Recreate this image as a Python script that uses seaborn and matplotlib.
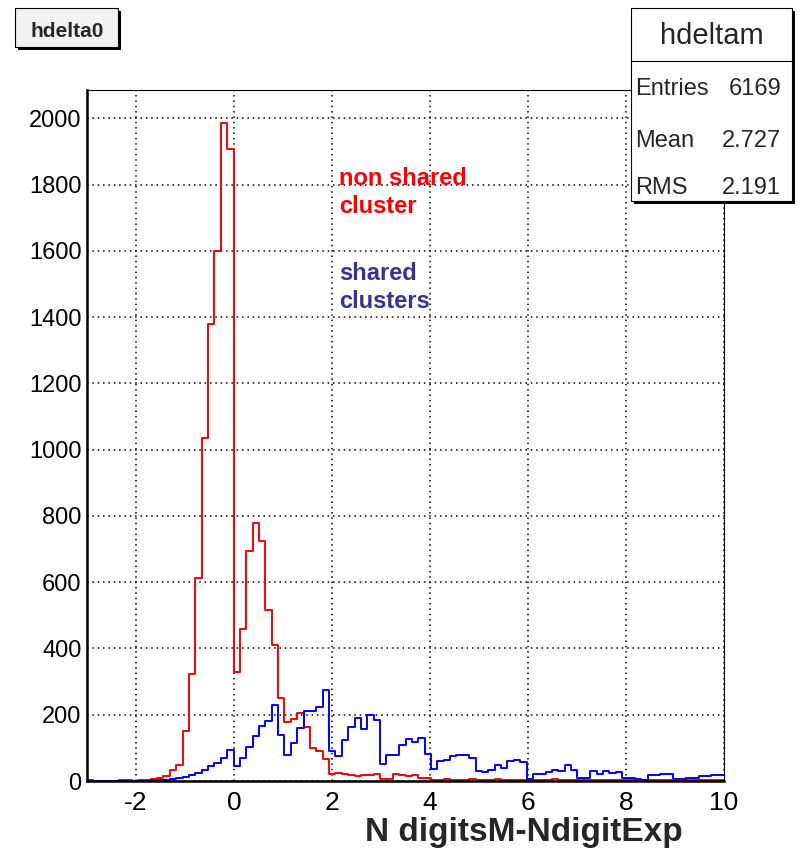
import numpy as np
import pandas as pd
import matplotlib
matplotlib.use("Agg")
import matplotlib.pyplot as plt
import seaborn as sns
from matplotlib.ticker import MultipleLocator
from matplotlib.patches import Rectangle
from matplotlib.lines import Line2D

# ---------------- data ----------------
bin_lo, bin_hi, n_bins = -3.0, 10.0, 100

red_counts = [4, 1, 1, 1, 1, 4, 4, 1, 2, 3,
              5, 8, 15, 32, 49, 150, 324, 614, 1035, 1379,
              1600, 1987, 1907, 329, 458, 693, 780, 724, 515, 412,
              252, 177, 186, 205, 163, 99, 91, 65, 21, 24,
              20, 17, 14, 17, 17, 21, 7, 7, 21, 19,
              15, 17, 10, 9, 4, 4, 5, 4, 4, 3,
              5, 4, 3, 4, 5, 3, 4, 4, 3, 2,
              3, 4, 3, 5, 4, 3, 2, 3, 4, 3,
              3, 4, 2, 3, 4, 3, 2, 3, 3, 4,
              2, 3, 2, 3, 2, 2, 3, 2, 3, 2]

blue_counts = [1, 1, 1, 1, 1, 1, 1, 1, 1, 1,
               2, 2, 3, 5, 8, 11, 17, 25, 34, 44,
               54, 68, 94, 44, 69, 102, 137, 165, 180, 228,
               140, 79, 114, 161, 211, 210, 223, 276, 91, 75,
               124, 163, 191, 156, 200, 183, 52, 77, 77, 110,
               127, 117, 131, 82, 37, 60, 63, 75, 79, 79,
               70, 30, 27, 34, 47, 39, 60, 64, 57, 7,
               20, 20, 27, 32, 30, 49, 32, 10, 10, 30,
               22, 29, 24, 28, 10, 8, 6, 4, 17, 19,
               20, 20, 7, 5, 10, 9, 14, 14, 18, 18]

x_ticks = [-2, 0, 2, 4, 6, 8, 10]
y_ticks = [0, 200, 400, 600, 800, 1000, 1200, 1400, 1600, 1800, 2000]

title_text = "hdelta0"
stats_name = "hdeltam"
stats_labels = ["Entries", "Mean", "RMS"]
stats_values = ["6169", "2.727", "2.191"]
xlabel_text = "N digitsM-NdigitExp"
red_label = "non shared\ncluster"
blue_label = "shared\nclusters"

# ---------------- style ----------------
sns.set_style("white")
plt.rcParams["font.family"] = ["Liberation Sans", "DejaVu Sans"]
REG = ["Liberation Sans", "DejaVu Sans"]

W, H = 800, 856
fig = plt.figure(figsize=(W / 100, H / 100), dpi=100)
fig.patch.set_facecolor("white")


def fx(x):
    return x / W


def fy(y):
    return 1 - y / H


ax = fig.add_axes([fx(87), fy(781), (724 - 87) / W, (781 - 90) / H])
ax.set_facecolor("white")

bin_w = (bin_hi - bin_lo) / n_bins
centers = bin_lo + bin_w * (np.arange(n_bins) + 0.5)
df = pd.DataFrame({"x": centers, "red": red_counts, "blue": blue_counts})

sns.histplot(data=df, x="x", weights="red", bins=n_bins, binrange=(bin_lo, bin_hi),
             element="step", fill=False, color="#ff0000", linewidth=1.4, ax=ax)
sns.histplot(data=df, x="x", weights="blue", bins=n_bins, binrange=(bin_lo, bin_hi),
             element="step", fill=False, color="#0000ff", linewidth=1.4, ax=ax)

ax.set_xlim(bin_lo, bin_hi)
ax.set_ylim(0, 2086)
ax.set_xlabel("")
ax.set_ylabel("")

ax.set_xticks(x_ticks)
ax.set_yticks(y_ticks)
ax.xaxis.set_minor_locator(MultipleLocator(0.5))
ax.yaxis.set_minor_locator(MultipleLocator(50))
ax.set_xticklabels([str(v) for v in x_ticks], fontfamily=REG, fontsize=19)
ax.set_yticklabels([str(v) for v in y_ticks], fontfamily=REG, fontsize=17)

ax.tick_params(axis="both", which="both", direction="in", top=False, right=False,
               color="black", labelcolor="black")
ax.tick_params(axis="x", which="major", length=15, width=1.3, pad=7)
ax.tick_params(axis="x", which="minor", length=7, width=1.0)
ax.tick_params(axis="y", which="major", length=13.5, width=1.3, pad=4)
ax.tick_params(axis="y", which="minor", length=6.5, width=1.0)

ax.grid(True, which="major", color="black", linestyle=(0, (1, 2.5)), linewidth=1.1)
ax.set_axisbelow(True)

for s in ["left", "bottom"]:
    ax.spines[s].set_linewidth(1.8)
    ax.spines[s].set_color("black")
for s in ["top", "right"]:
    ax.spines[s].set_linewidth(0.8)
    ax.spines[s].set_color("black")

# annotations
ax.text(2.15, 1855, red_label, color="#ff0000", fontsize=17, fontweight="bold",
        fontfamily=REG, ha="left", va="top", linespacing=1.32)
ax.text(2.15, 1568, blue_label, color="#333399", fontsize=17, fontweight="bold",
        fontfamily=REG, ha="left", va="top", linespacing=1.32)

# x label
fig.text(fx(524), fy(841), xlabel_text, fontsize=24, fontweight="bold",
         fontfamily=REG, ha="center", va="baseline")

# title box with shadow
fig.add_artist(Rectangle((fx(18), fy(50)), (118 - 15) / W, (47 - 8) / H,
                         transform=fig.transFigure, facecolor="black",
                         edgecolor="none"))
fig.add_artist(Rectangle((fx(15), fy(47)), (118 - 15) / W, (47 - 8) / H,
                         transform=fig.transFigure, facecolor="#f2f2f2",
                         edgecolor="black", linewidth=0.8))
fig.text(fx(67), fy(37), title_text, fontsize=15, fontweight="bold",
         fontfamily=REG, ha="center", va="baseline")

# stats box with shadow
bx0, bx1, by0, by1 = 631, 792, 8, 201
fig.add_artist(Rectangle((fx(bx0 + 3), fy(by1 + 3)), (bx1 - bx0) / W, (by1 - by0) / H,
                         transform=fig.transFigure, facecolor="black",
                         edgecolor="none"))
fig.add_artist(Rectangle((fx(bx0), fy(by1)), (bx1 - bx0) / W, (by1 - by0) / H,
                         transform=fig.transFigure, facecolor="white",
                         edgecolor="black", linewidth=0.8))
fig.add_artist(Line2D([fx(bx0), fx(bx1)], [fy(61), fy(61)],
                      transform=fig.transFigure, color="black", linewidth=0.8))
fig.text(fx((bx0 + bx1) / 2), fy(44), stats_name, fontsize=21,
         fontfamily=REG, ha="center", va="baseline")
row_baselines = [95, 147, 194]
for lab, val, yb in zip(stats_labels, stats_values, row_baselines):
    fig.text(fx(635), fy(yb), lab, fontsize=17, fontfamily=REG,
             ha="left", va="baseline")
    fig.text(fx(781), fy(yb), val, fontsize=17, fontfamily=REG,
             ha="right", va="baseline")

fig.savefig("out.png", dpi=100)
